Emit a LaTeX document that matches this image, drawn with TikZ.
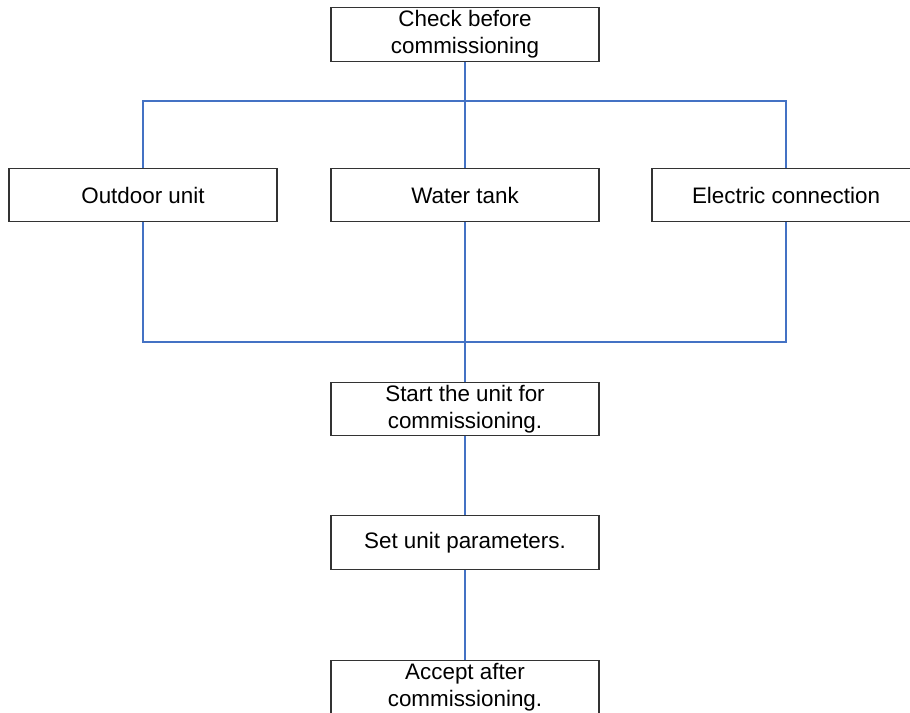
\documentclass[tikz,border=0pt]{standalone}
\usepackage{fontspec}
\setmainfont{Liberation Sans}
\definecolor{linkblue}{RGB}{68,114,196}
\tikzset{
  box/.style={draw=black!80, line width=0.9pt, rectangle, minimum width=201pt,
    minimum height=40pt, inner sep=1pt, align=center,
    font=\fontsize{16.8}{20}\selectfont},
  link/.style={draw=linkblue, line width=0.85pt},
}
\begin{document}
\begin{tikzpicture}[x=0.75pt, y=-0.75pt]
  \useasboundingbox (0,0) rectangle (910,713);

  % Check before commissioning
  \node[box] (check) at (465,34.5) {Check before\\commissioning};

  % The three items to check
  \node[box] (outdoor) at (143,195) {Outdoor unit};
  \node[box] (tank) at (465,195) {Water tank};
  \node[box] (elec) at (786,195) {Electric connection};

  % Steps after the check
  \node[box] (start) at (465,409) {Start the unit for\\commissioning.};
  \node[box] (params) at (465,542.5) {Set unit parameters.};
  \node[box] (accept) at (465,687) {Accept after\\commissioning.};

  % Bus lines above and below the three items
  \coordinate (busT) at (465,101);
  \coordinate (busB) at (465,342);

  % Split to the three items
  \draw[link] (check.south) -- (check.south |- busT);
  \draw[link] (outdoor.north) -- (outdoor.north |- busT) -| (elec.north);
  \draw[link] (tank.north) -- (tank.north |- busT);

  % Join below the three items
  \draw[link] (outdoor.south) -- (outdoor.south |- busB) -| (elec.south);
  \draw[link] (tank.south) -- (start.north);

  % Steps down to acceptance
  \draw[link] (start.south) -- (params.north);
  \draw[link] (params.south) -- (accept.north);
\end{tikzpicture}
\end{document}
